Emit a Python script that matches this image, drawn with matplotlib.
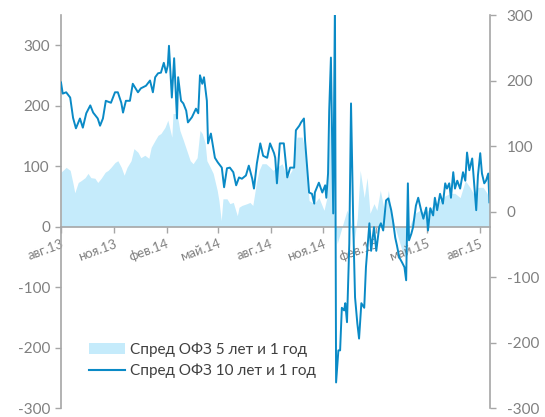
import matplotlib
matplotlib.use("Agg")
import matplotlib.pyplot as plt
import matplotlib.dates as mdates
import pandas as pd
from matplotlib.patches import Patch
from matplotlib.lines import Line2D

plt.rcParams['font.family'] = ['Lato', 'DejaVu Sans']

# Spread OFZ 10y - 1y (right axis, bp)
line_dates = ["2013-08-01","2013-08-04","2013-08-10","2013-08-17","2013-08-22","2013-08-27","2013-09-03","2013-09-08","2013-09-14","2013-09-21","2013-09-26","2013-10-04","2013-10-08","2013-10-13","2013-10-18","2013-10-27","2013-11-03","2013-11-08","2013-11-14","2013-11-17","2013-11-22","2013-11-29","2013-12-04","2013-12-13","2013-12-18","2013-12-27","2014-01-03","2014-01-08","2014-01-12","2014-01-17","2014-01-22","2014-01-27","2014-01-31","2014-02-03","2014-02-05","2014-02-10","2014-02-14","2014-02-19","2014-02-21","2014-02-26","2014-03-02","2014-03-07","2014-03-10","2014-03-17","2014-03-24","2014-03-28","2014-03-31","2014-04-04","2014-04-07","2014-04-12","2014-04-14","2014-04-19","2014-04-23","2014-04-26","2014-05-01","2014-05-08","2014-05-12","2014-05-17","2014-05-22","2014-05-28","2014-06-02","2014-06-07","2014-06-12","2014-06-19","2014-06-24","2014-06-30","2014-07-03","2014-07-08","2014-07-14","2014-07-19","2014-07-26","2014-07-31","2014-08-07","2014-08-09","2014-08-12","2014-08-17","2014-08-24","2014-08-30","2014-09-04","2014-09-11","2014-09-14","2014-09-20","2014-09-23","2014-09-28","2014-09-30","2014-10-07","2014-10-12","2014-10-16","2014-10-17","2014-10-24","2014-10-30","2014-11-04","2014-11-06","2014-11-09","2014-11-11","2014-11-14","2014-11-18","2014-11-21","2014-11-23","2014-11-27","2014-11-30","2014-12-03","2014-12-07","2014-12-09","2014-12-12","2014-12-16","2014-12-19","2014-12-23","2014-12-26","2014-12-30","2015-01-02","2015-01-06","2015-01-11","2015-01-14","2015-01-20","2015-01-23","2015-01-28","2015-02-01","2015-02-06","2015-02-09","2015-02-13","2015-02-18","2015-02-22","2015-02-27","2015-03-02","2015-03-06","2015-03-09","2015-03-13","2015-03-18","2015-03-22","2015-03-25","2015-03-28","2015-03-30","2015-04-03","2015-04-06","2015-04-11","2015-04-15","2015-04-20","2015-04-24","2015-04-29","2015-05-02","2015-05-06","2015-05-11","2015-05-14","2015-05-18","2015-05-23","2015-05-28","2015-06-01","2015-06-04","2015-06-08","2015-06-11","2015-06-15","2015-06-18","2015-06-22","2015-06-27","2015-07-02","2015-07-06","2015-07-09","2015-07-13","2015-07-18","2015-07-20","2015-07-25","2015-07-28","2015-08-01","2015-08-04","2015-08-08","2015-08-11","2015-08-15","2015-08-17"]
line_vals = [197,180,182,174,143,127,142,128,150,162,151,142,131,142,169,166,182,182,166,151,169,169,195,182,188,192,200,182,205,211,212,227,212,223,253,174,234,142,205,169,165,154,136,144,157,150,208,195,205,169,104,119,98,82,75,67,37,66,67,60,40,52,50,55,70,50,35,73,104,85,82,104,89,82,43,104,104,52,67,67,124,131,136,142,108,29,27,12,29,44,29,40,21,58,154,235,-3,320,-261,-212,-212,-147,-151,-140,-169,-49,165,-24,-131,-171,-194,-140,-147,-85,-18,-60,-24,-60,-24,-18,-29,17,20,2,-14,-40,-52,-70,-78,-85,-105,43,-44,-34,-24,9,21,2,-11,6,-29,5,-6,21,2,27,12,43,35,43,21,60,35,47,35,60,47,90,63,81,58,2,55,89,58,43,47,58,14]

# Spread OFZ 5y - 1y (left axis, bp)
area_dates = ["2013-08-01","2013-08-10","2013-08-17","2013-08-22","2013-08-25","2013-08-31","2013-09-05","2013-09-12","2013-09-17","2013-09-22","2013-09-29","2013-10-04","2013-10-10","2013-10-17","2013-10-22","2013-10-27","2013-11-03","2013-11-08","2013-11-14","2013-11-19","2013-11-24","2013-12-01","2013-12-06","2013-12-13","2013-12-18","2013-12-25","2014-01-01","2014-01-05","2014-01-12","2014-01-17","2014-01-22","2014-01-29","2014-02-03","2014-02-10","2014-02-12","2014-02-19","2014-02-24","2014-03-02","2014-03-08","2014-03-14","2014-03-19","2014-03-26","2014-03-31","2014-04-04","2014-04-09","2014-04-12","2014-04-18","2014-04-23","2014-04-30","2014-05-03","2014-05-07","2014-05-10","2014-05-17","2014-05-22","2014-05-28","2014-06-04","2014-06-07","2014-06-12","2014-06-21","2014-06-26","2014-07-01","2014-07-07","2014-07-12","2014-07-17","2014-07-24","2014-07-31","2014-08-05","2014-08-12","2014-08-21","2014-08-30","2014-09-07","2014-09-16","2014-09-25","2014-09-30","2014-10-07","2014-10-16","2014-10-24","2014-11-02","2014-11-07","2014-11-13","2014-11-20","2014-11-25","2014-12-03","2014-12-12","2014-12-17","2014-12-24","2014-12-30","2015-01-04","2015-01-11","2015-01-16","2015-01-21","2015-01-28","2015-02-02","2015-02-08","2015-02-16","2015-02-22","2015-03-01","2015-03-06","2015-03-11","2015-03-18","2015-03-23","2015-03-28","2015-04-04","2015-04-11","2015-04-18","2015-04-27","2015-05-06","2015-05-14","2015-05-23","2015-06-01","2015-06-10","2015-06-18","2015-06-27","2015-07-06","2015-07-14","2015-07-20","2015-07-28","2015-08-06","2015-08-13","2015-08-17"]
area_vals = [90,98,93,71,56,73,76,81,88,81,80,73,80,90,93,98,106,109,98,85,98,109,129,123,114,118,113,131,143,151,154,164,176,148,187,187,159,143,126,109,104,114,159,154,138,109,98,88,60,43,10,46,46,38,40,18,32,35,38,40,35,71,93,104,104,98,93,98,104,81,93,148,148,126,43,38,48,27,48,200,15,-28,-2,27,15,-28,15,93,48,81,22,38,27,60,22,60,15,-2,-18,-40,-51,-7,10,23,27,23,30,38,43,51,55,55,48,76,65,55,65,65,55,38]

tick_dates = ["2013-08-01","2013-11-01","2014-02-01","2014-05-01","2014-08-01","2014-11-01","2015-02-01","2015-05-01","2015-08-01"]
tick_labels = ["авг.13","ноя.13","фев.14","май.14","авг.14","ноя.14","фев.15","май.15","авг.15"]
left_ticks = [-300, -200, -100, 0, 100, 200, 300]
right_ticks = [-300, -200, -100, 0, 100, 200, 300]
label_5y = "Спред ОФЗ 5 лет и 1 год"
label_10y = "Спред ОФЗ 10 лет и 1 год"

AREA = "#C5EBFB"
LINE = "#0A8AC6"
GRAY = "#808080"
AXC = "#A6A6A6"

ld = pd.to_datetime(line_dates)
ad = pd.to_datetime(area_dates)
td = pd.to_datetime(tick_dates)

fig = plt.figure(figsize=(5.45, 4.17), dpi=100)
ax = fig.add_axes([61/545, 1-408/417, (490-61)/545, (408-15)/417])
ax2 = ax.twinx()

ax.fill_between(ad, 0, area_vals, color=AREA, linewidth=0)
ax2.plot(ld, line_vals, color=LINE, lw=1.4)

ax.set_ylim(-300, 350)
ax2.set_ylim(-300, 300)
ax.set_xlim(pd.Timestamp("2013-08-01"), pd.Timestamp("2015-08-18"))

for a in (ax, ax2):
    a.spines['top'].set_visible(False)
    a.patch.set_visible(False)
ax.spines['right'].set_visible(False)
ax2.spines['left'].set_visible(False)
ax2.spines['bottom'].set_visible(False)
ax.spines['left'].set_color(AXC)
ax2.spines['right'].set_color(AXC)
ax.spines['bottom'].set_position(('data', 0))
ax.spines['bottom'].set_color(AXC)
for s in ('left', 'bottom'):
    ax.spines[s].set_linewidth(1.2)
ax2.spines['right'].set_linewidth(1.2)

ax.set_yticks(left_ticks)
ax.set_yticklabels([str(v) for v in left_ticks])
ax2.set_yticks(right_ticks)
ax2.set_yticklabels([str(v) for v in right_ticks])
ax.tick_params(axis='y', direction='out', length=4, width=1.0, color=AXC,
               labelcolor=GRAY, labelsize=11, pad=4)
ax2.tick_params(axis='y', direction='out', length=4, width=1.0, color=AXC,
                labelcolor=GRAY, labelsize=11, pad=8)

ax.set_xticks(td)
ax.set_xticklabels(tick_labels, rotation=20, ha='right', va='top',
                   rotation_mode='anchor')
ax.tick_params(axis='x', direction='out', length=4, width=1.0, color=AXC,
               labelcolor=GRAY, labelsize=9.5, pad=4)

handles = [Patch(facecolor=AREA, edgecolor='none'),
           Line2D([], [], color=LINE, lw=1.5)]
leg = ax2.legend(handles, [label_5y, label_10y], loc='lower left',
                 bbox_to_anchor=(0.05, 0.06), frameon=False, fontsize=11,
                 handlelength=2.4, handleheight=0.65, handletextpad=0.3,
                 labelspacing=0.45, borderaxespad=0)
for t in leg.get_texts():
    t.set_color("#404040")

fig.savefig("out.png", dpi=100)
